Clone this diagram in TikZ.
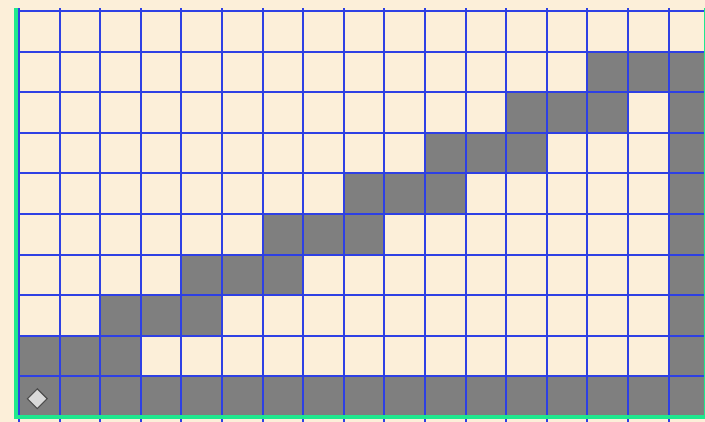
\documentclass[tikz,border=0pt]{standalone}
\usepackage{tikz}
\usetikzlibrary{shapes.geometric}
\definecolor{parchment}{HTML}{FCEFD9}
\definecolor{wallgray}{HTML}{7F7F7F}
\definecolor{gridblue}{HTML}{2E40E4}
\definecolor{edgegreen}{HTML}{1FE88E}
\definecolor{markfill}{HTML}{D9D9D9}
\definecolor{markdraw}{HTML}{4D4D4D}

\begin{document}
\begin{tikzpicture}[
  wall/.style={fill=wallgray},
  gridline/.style={draw=gridblue, line width=1.4pt},
  edge/.style={draw=edgegreen, line width=2.6pt},
  marker/.style={diamond, draw=markdraw, fill=markfill, line width=0.8pt, inner sep=0pt, minimum size=0.5cm}
]

  % Frame
  \clip (-0.468,-0.123) rectangle (16.897,10.271);
  \fill[parchment] (-0.468,-0.123) rectangle (16.897,10.271);

  % Floor and right wall
  \foreach \c in {0,...,16}
    \fill[wall] (\c,0) rectangle ++(1,1);
  \foreach \r in {1,...,8}
    \fill[wall] (16,\r) rectangle ++(1,1);

  % Staircase
  \foreach \k in {0,...,7}
    \foreach \c in {0,1,2}
      \fill[wall] ({2*\k+\c},\k+1) rectangle ++(1,1);

  % Grid
  \foreach \c in {0,...,17}
    \draw[gridline] (\c,-0.2) -- (\c,10.07);
  \foreach \r in {1,...,10}
    \draw[gridline] (0,\r) -- (17,\r);

  % Border
  \draw[edge] (-0.074,10.07) -- (-0.074,0) -- (17,0);
  \draw[edge] (16.93,0) -- (16.93,10.07);

  % Start marker
  \node[marker] (start) at (0.45,0.45) {};

\end{tikzpicture}
\end{document}
